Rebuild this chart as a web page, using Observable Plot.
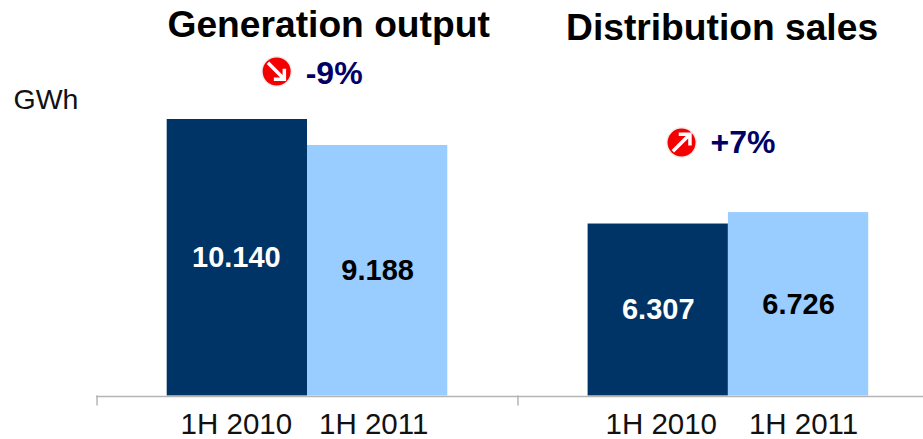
<!DOCTYPE html>
<html>
<head>
<meta charset="utf-8">
<style>
html,body{margin:0;padding:0;background:#fff;overflow:hidden}
svg{display:block}
</style>
<script src="https://cdn.jsdelivr.net/npm/d3@7"></script>
<script src="https://cdn.jsdelivr.net/npm/@observablehq/plot@0.6"></script>
</head>
<body>
<div id="chart"></div>
<script>
const periods = ["1H 2010", "1H 2011"];
const generationValues = [10140, 9188];
const distributionValues = [6307, 6726];
const valueLabels = ["10.140", "9.188", "6.307", "6.726"];
const slots = ["start", "G 1H 2010", "G 1H 2011", "gap", "D 1H 2010", "D 1H 2011"];
const barSlots = ["G 1H 2010", "G 1H 2011", "D 1H 2010", "D 1H 2011"];
const separators = ["start", "gap"];
const colors = ["#003366", "#99ccff"];
const textColors = ["#ffffff", "#000000"];
const font = "Liberation Sans, Arial, sans-serif";

const values = [...generationValues, ...distributionValues];
const bars = barSlots.map((slot, i) => ({
  slot, value: values[i], label: valueLabels[i],
  period: periods[i % 2], fill: colors[i % 2], ink: textColors[i % 2]
}));

const arrowDown = {draw(c, size) {
  const r = Math.sqrt(size / Math.PI);
  c.moveTo(-0.62 * r, -0.62 * r); c.lineTo(0.55 * r, 0.55 * r);
  c.moveTo(0.55 * r, -0.2 * r); c.lineTo(0.55 * r, 0.55 * r); c.lineTo(-0.2 * r, 0.55 * r);
}};
const arrowUp = {draw(c, size) {
  const r = Math.sqrt(size / Math.PI);
  c.moveTo(-0.62 * r, 0.62 * r); c.lineTo(0.6 * r, -0.6 * r);
  c.moveTo(-0.2 * r, -0.6 * r); c.lineTo(0.6 * r, -0.6 * r); c.lineTo(0.6 * r, 0.2 * r);
}};

const note = (text, slot, value, dx, dy, o = {}) => Plot.text([text], {
  x: () => slot, y: () => value, text: d => d, dx, dy,
  fontFamily: font, fontWeight: "bold", fill: "#000", ...o
});
const badge = (slot, value, dx, dy, symbol) => [
  Plot.dot([value], {x: () => slot, y: d => d, dx, dy, r: 15.5, fill: "#eeeeee", stroke: null}),
  Plot.dot([value], {x: () => slot, y: d => d, dx, dy, r: 14, fill: "#f40000", stroke: null}),
  Plot.dot([value], {x: () => slot, y: d => d, dx, dy, r: 14, symbol, fill: "none", stroke: "#fff", strokeWidth: 3.5})
];
const tickLabel = (bar, dx) => Plot.text([bar], {
  x: "slot", y: () => 0, text: "period", dx, dy: 29,
  fontFamily: font, fontSize: 29.5, fill: "#111"
});

const chart = Plot.plot({
  width: 923, height: 439,
  marginLeft: 96, marginRight: 0, marginTop: 0, marginBottom: 0,
  x: {type: "band", domain: slots, range: [26.4, 868.2], padding: 0, round: false, axis: null},
  y: {domain: [0, 10140], range: [395.5, 119], axis: null},
  marks: [
    Plot.barY(bars, {x: "slot", y: "value", fill: "fill"}),
    Plot.ruleY([0], {stroke: "#b5b5b5", strokeWidth: 1.5, dy: 0.5}),
    Plot.ruleX(separators, {x: d => d, y1: 0, y2: -370, stroke: "#b5b5b5", strokeWidth: 1.5}),
    Plot.text(bars.slice(0, 1), {x: "slot", y: d => d.value / 2, text: "label", fill: "ink",
      fontFamily: font, fontWeight: "bold", fontSize: 29, dx: -1}),
    Plot.text(bars.slice(1), {x: "slot", y: d => d.value / 2, text: "label", fill: "ink",
      fontFamily: font, fontWeight: "bold", fontSize: 29}),
    tickLabel(bars[0], -1),
    tickLabel(bars[1], -4),
    tickLabel(bars[2], 3),
    tickLabel(bars[3], 5),
    note("Generation output", "G 1H 2011", 10140, -49, -94, {fontSize: 37.2}),
    note("Distribution sales", "D 1H 2011", 10140, -76.5, -91, {fontSize: 37.2}),
    note("-9%", "G 1H 2011", 10140, -43.5, -46, {fontSize: 32, fill: "#000066"}),
    note("+7%", "D 1H 2011", 6726, -55.5, -70, {fontSize: 32, fill: "#000066"}),
    badge("G 1H 2011", 10140, -101, -48, arrowDown),
    badge("D 1H 2011", 6726, -117, -70, arrowUp),
    Plot.text(["GWh"], {frameAnchor: "top-left", text: d => d, dx: -83, dy: 88, textAnchor: "start",
      fontFamily: font, fontSize: 28.5, fill: "#111"})
  ]
});
document.getElementById("chart").append(chart);
</script>
</body>
</html>
